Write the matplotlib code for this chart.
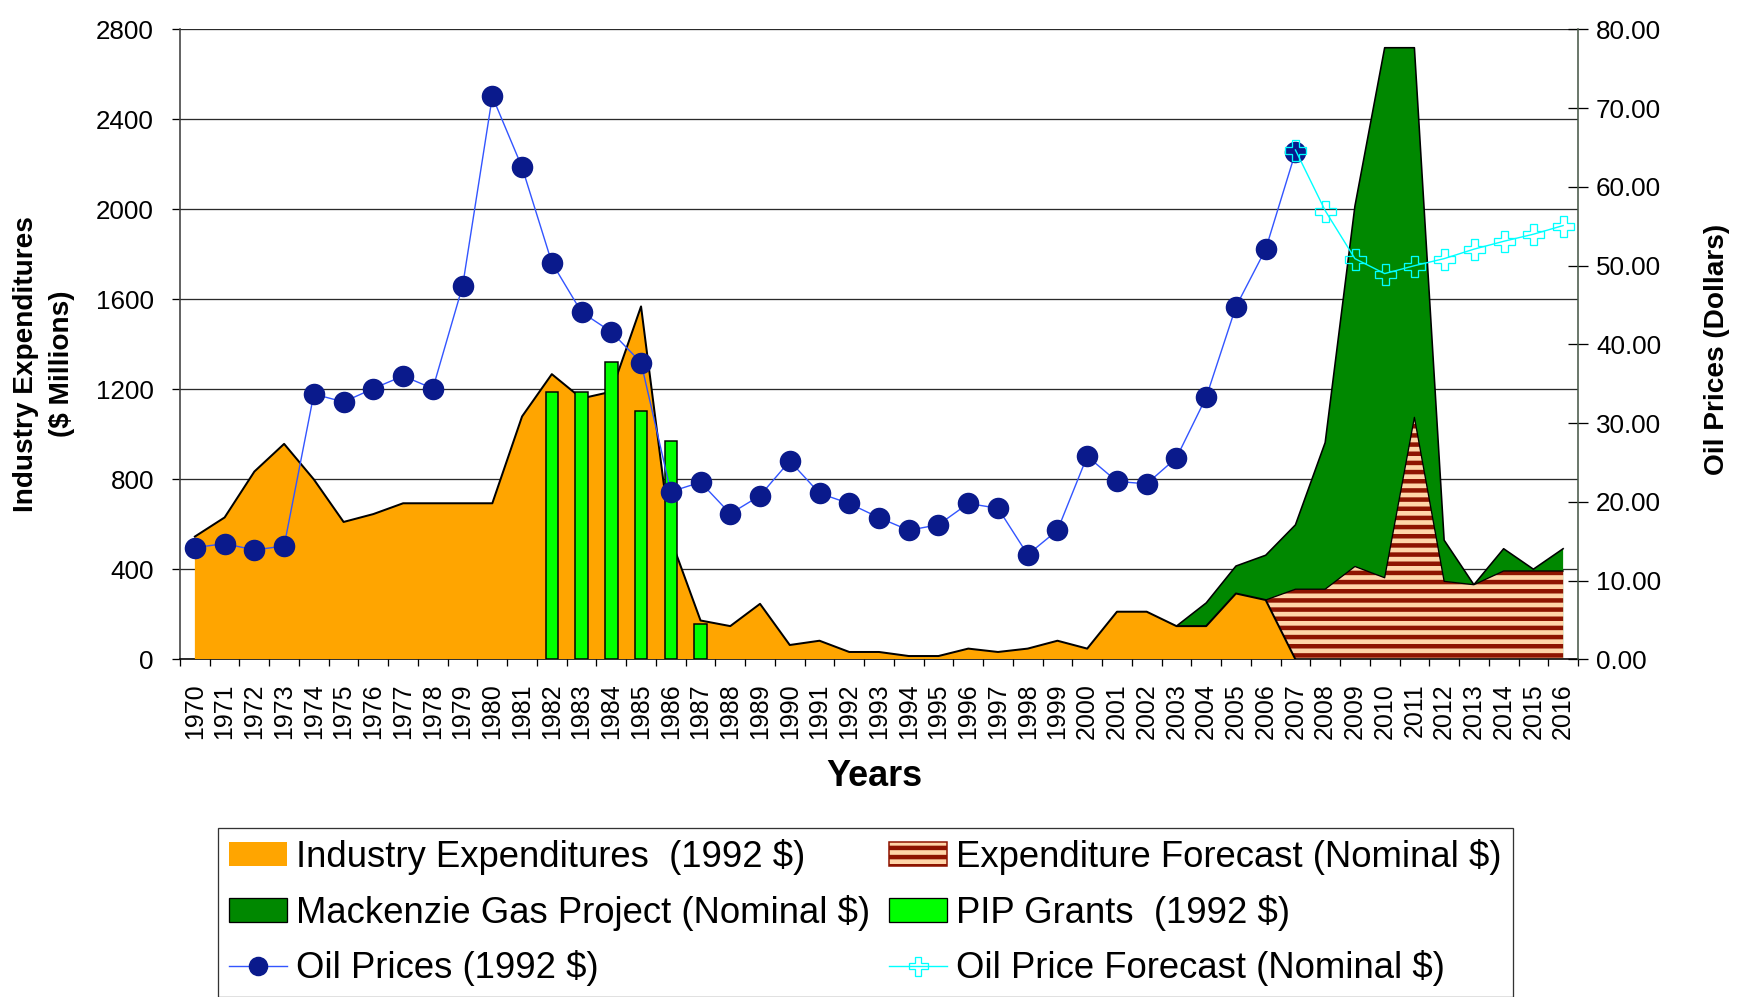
import matplotlib
matplotlib.use('Agg')
import matplotlib.pyplot as plt
from matplotlib.lines import Line2D
from matplotlib.patches import Patch
import numpy as np

# ---------------- data ----------------
years = list(range(1970, 2017))

industry_years = list(range(1970, 2008))
industry_exp = [546, 631, 835, 958, 800, 611, 646, 694, 694, 694, 694, 1080,
                1268, 1160, 1190, 1569, 535, 173, 148, 247, 64, 83, 33, 33,
                15, 15, 48, 33, 48, 83, 48, 212, 212, 148, 148, 293, 264, 0]

forecast_years = list(range(2006, 2017))
exp_forecast = [264, 312, 312, 413, 363, 1076, 347, 332, 393, 393, 393]

mgp_years = list(range(2003, 2017))
mgp = [148, 251, 415, 463, 598, 964, 2015, 2719, 2719, 530, 332, 492, 401, 492]

pip_years = [1982, 1983, 1984, 1985, 1986, 1987]
pip = [1187, 1187, 1320, 1105, 969, 159]

oil_years = list(range(1970, 2008))
oil = [14.2, 14.7, 13.9, 14.4, 33.7, 32.7, 34.4, 36.0, 34.4, 47.4, 71.5, 62.5,
       50.4, 44.1, 41.6, 37.7, 21.3, 22.5, 18.5, 20.8, 25.2, 21.1, 19.8, 18.0,
       16.4, 17.1, 19.8, 19.2, 13.3, 16.4, 25.8, 22.6, 22.3, 25.6, 33.3, 44.8,
       52.1, 64.4]

oil_fc_years = list(range(2007, 2017))
oil_fc = [64.7, 57.0, 50.9, 49.0, 50.0, 50.9, 52.1, 53.1, 54.0, 55.1]

left_ticks = [0, 400, 800, 1200, 1600, 2000, 2400, 2800]
right_ticks = [0, 10, 20, 30, 40, 50, 60, 70, 80]

labels = ['Industry Expenditures  (1992 $)',
          'Mackenzie Gas Project (Nominal $)',
          'Oil Prices (1992 $)',
          'Expenditure Forecast (Nominal $)',
          'PIP Grants  (1992 $)',
          'Oil Price Forecast (Nominal $)']

# ---------------- style ----------------
DPI = 110
PX = 72.0 / DPI  # points per pixel
W, H = 1737, 997

plt.rcParams['font.family'] = ['Liberation Sans', 'DejaVu Sans']
plt.rcParams['hatch.linewidth'] = 4.5 * PX

ORANGE = '#FFA500'
DKGREEN = '#008800'
BRGREEN = '#00FF00'
PEACH = '#FFD5A8'
DKRED = '#8E1400'
NAVY = '#0A1A8C'
BLUE = '#3355FF'
CYAN = '#00FFFF'

fig = plt.figure(figsize=(W / DPI, H / DPI), dpi=DPI)
left, right, top, bottom = 180, 1578, 29.5, 659.4
ax = fig.add_axes([left / W, 1 - bottom / H, (right - left) / W, (bottom - top) / H])

# areas
ax.fill_between(mgp_years, 0, mgp, facecolor=DKGREEN, lw=0, zorder=1)
ax.plot(mgp_years, mgp, color='black', lw=1.6 * PX, zorder=1.1)

ax.fill_between(forecast_years, 0, exp_forecast, facecolor=PEACH,
                edgecolor=DKRED, hatch='--', lw=0, zorder=2)
ax.plot(forecast_years, exp_forecast, color='black', lw=1.3 * PX, zorder=2.1)

ax.fill_between(industry_years, 0, industry_exp, facecolor=ORANGE, lw=0, zorder=3)
ax.plot(industry_years, industry_exp, color='black', lw=2 * PX, zorder=3.1)

ax.bar(pip_years, pip, width=0.42, color=BRGREEN, edgecolor='black',
       lw=1.5 * PX, zorder=4)

ax.set_xlim(1969.5, 2016.5)
ax.set_ylim(0, 2800)
ax.set_yticks(left_ticks)
ax.set_yticklabels([str(t) for t in left_ticks])
ax.yaxis.grid(True, color='#2a2a2a', lw=1.3 * PX, zorder=0)
ax.set_axisbelow(True)

ax.set_xticks(np.arange(1969.5, 2017, 1.0))
ax.set_xticklabels([])
ax.set_xticks(years, minor=True)
ax.set_xticklabels([str(y) for y in years], minor=True, rotation=90,
                   fontsize=25 * PX)
ax.tick_params(axis='x', which='major', direction='out', length=7 * PX,
               width=1.3 * PX, color='black')
ax.tick_params(axis='x', which='minor', length=0, pad=24 * PX)
ax.tick_params(axis='y', direction='out', length=8 * PX, width=1.3 * PX,
               labelsize=26 * PX, pad=18 * PX)

ax.spines['top'].set_visible(False)
ax.spines['right'].set_visible(False)
ax.spines['left'].set_color('#404040')
ax.spines['left'].set_linewidth(1.6 * PX)
ax.spines['bottom'].set_color('black')
ax.spines['bottom'].set_linewidth(1.6 * PX)

# oil prices on right axis
ax2 = ax.twinx()
ax2.set_ylim(0, 80)
ax2.set_yticks(right_ticks)
ax2.set_yticklabels(['%.2f' % t for t in right_ticks])
ax2.tick_params(axis='y', direction='inout', length=20 * PX, width=1.3 * PX,
                labelsize=26 * PX, pad=8 * PX)
for s in ['top', 'left', 'bottom']:
    ax2.spines[s].set_visible(False)
ax2.spines['right'].set_color('#4a5a4a')
ax2.spines['right'].set_linewidth(1.6 * PX)

ax2.plot(oil_years, oil, color=BLUE, lw=1.4 * PX, marker='o',
         ms=20 * PX, mfc=NAVY, mec=NAVY, zorder=5)
ax2.plot(oil_fc_years, oil_fc, color=CYAN, lw=1.4 * PX, marker='P',
         ms=21 * PX, mfc='none', mec=CYAN, mew=1.3 * PX, zorder=6)

# axis titles
fig.text(874 / W, 1 - 776 / H, 'Years', ha='center', va='center',
         fontsize=36 * PX, weight='bold')
fig.text(44 / W, 1 - 364 / H, 'Industry Expenditures\n($ Millions)',
         rotation=90, ha='center', va='center', fontsize=28 * PX,
         weight='bold', linespacing=1.5, multialignment='center')
fig.text(1717 / W, 1 - 349 / H, 'Oil Prices (Dollars)', rotation=90,
         ha='center', va='center', fontsize=28 * PX, weight='bold')

# legend
handles = [
    Patch(facecolor=ORANGE, edgecolor='none'),
    Patch(facecolor=DKGREEN, edgecolor='black', lw=1.3 * PX),
    Line2D([], [], color=BLUE, lw=1.4 * PX, marker='o', ms=18 * PX,
           mfc=NAVY, mec=NAVY),
    Patch(facecolor=PEACH, edgecolor=DKRED, hatch='--'),
    Patch(facecolor=BRGREEN, edgecolor='black', lw=1.3 * PX),
    Line2D([], [], color=CYAN, lw=1.4 * PX, marker='P', ms=19 * PX,
           mfc='none', mec=CYAN, mew=1.3 * PX),
]
leg = fig.legend(handles, labels, ncol=2, loc='upper left',
                 bbox_to_anchor=(218 / W, 1 - 828 / H),
                 bbox_transform=fig.transFigure,
                 fontsize=36.5 * PX, frameon=True, fancybox=False,
                 edgecolor='black', borderpad=0.3, borderaxespad=0,
                 handlelength=1.6, handleheight=0.65, handletextpad=0.25,
                 labelspacing=0.54, columnspacing=0.5)
leg.get_frame().set_linewidth(1.3 * PX)

fig.savefig('out.png', dpi=DPI)
